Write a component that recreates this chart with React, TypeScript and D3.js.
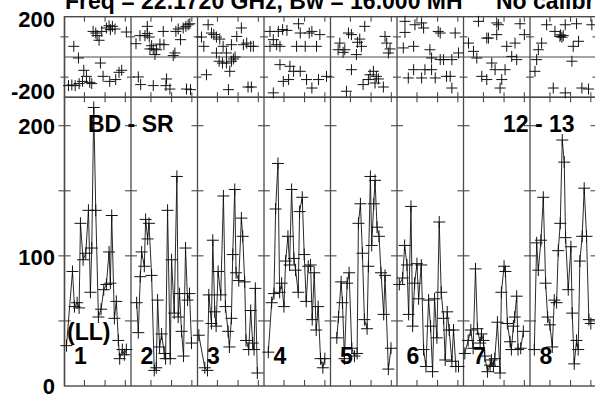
import React from "react";
import * as d3 from "d3";

// ---- data (t = fraction of each baseline time panel) ----
const PANEL_LABELS = ["1", "2", "3", "4", "5", "6", "7", "8"];
const TIME_TICKS = [0.3, 0.61, 0.915];
const AMP_TICKS = [50, 100, 150, 200];
const PHASE_TICKS = [-100, 100];
const AMP_AXIS_LABELS = ["200", "100", "0"];
const PHASE_AXIS_LABELS = ["200", "-200"];

const amp1 = [[.03,31],[.12,88],[.15,61],[.19,64],[.22,60],[.24,125],[.28,97],[.32,102],[.36,135],[.39,72],[.41,106],[.44,214],[.47,135],[.51,53],[.55,59],[.59,74],[.63,78],[.67,103],[.69,79],[.71,131],[.75,52],[.78,65],[.81,35],[.83,21],[.87,28],[.90,24],[.93,28]];
const amp2 = [[.085,64],[.11,41],[.14,84],[.16,103],[.20,92],[.22,128],[.25,113],[.27,125],[.31,85],[.35,12],[.38,14],[.40,66],[.43,30],[.46,40],[.50,25],[.52,21],[.55,135],[.59,21],[.61,97],[.65,56],[.69,161],[.71,53],[.73,71],[.76,42],[.79,23],[.82,106],[.85,66],[.88,71],[.91,33]];
const amp3 = [[.02,39],[.11,14],[.15,12],[.17,70],[.21,48],[.23,112],[.26,57],[.28,46],[.31,88],[.35,70],[.39,146],[.42,61],[.46,42],[.48,30],[.51,52],[.53,101],[.56,151],[.58,87],[.62,81],[.66,129],[.68,115],[.71,80],[.73,35],[.77,28],[.80,58],[.83,33],[.85,28],[.87,75],[.90,10]];
const amp4 = [[.065,26],[.115,64],[.15,71],[.175,136],[.21,171],[.235,72],[.265,79],[.30,61],[.325,96],[.36,115],[.385,93],[.415,151],[.45,98],[.475,89],[.515,72],[.535,134],[.575,145],[.605,101],[.635,65],[.665,92],[.70,93],[.725,51],[.755,87],[.785,43],[.815,61],[.85,21],[.885,14],[.915,21]];
const amp5 = [[.095,37],[.12,53],[.16,80],[.18,64],[.21,21],[.25,79],[.28,87],[.32,29],[.36,23],[.40,25],[.42,125],[.45,140],[.48,102],[.51,51],[.55,44],[.57,92],[.60,161],[.62,108],[.65,140],[.67,158],[.70,122],[.73,115],[.76,87],[.80,55],[.82,85],[.87,13],[.91,29]];
const amp6 = [[.035,78],[.085,83],[.115,108],[.15,93],[.175,55],[.21,138],[.235,46],[.265,79],[.30,94],[.325,67],[.365,93],[.40,28],[.435,15],[.475,66],[.505,46],[.535,11],[.565,67],[.60,37],[.635,126],[.665,72],[.70,52],[.725,20],[.755,57],[.785,43],[.825,19],[.85,43],[.885,15],[.925,15]];
const amp7 = [[.02,25],[.07,35],[.11,43],[.145,29],[.18,90],[.21,44],[.25,33],[.27,40],[.30,35],[.32,23],[.36,11],[.40,16],[.42,20],[.45,15],[.47,21],[.51,49],[.55,10],[.57,72],[.61,92],[.63,88],[.66,48],[.70,34],[.72,28],[.75,46],[.77,53],[.80,69],[.82,28],[.86,29],[.90,42]];
const amp8 = [[.065,28],[.10,110],[.125,89],[.165,112],[.20,145],[.235,79],[.265,53],[.30,47],[.335,30],[.365,66],[.40,64],[.425,104],[.455,125],[.485,189],[.515,172],[.535,114],[.575,74],[.615,107],[.635,56],[.665,17],[.70,35],[.725,28],[.75,96],[.785,115],[.815,152],[.85,115],[.885,51],[.915,48]];

const ph1 = [[.14,53],[.21,-5],[.43,127],[.47,119],[.49,106],[.52,83],[.56,127],[.63,144],[.67,155],[.69,136],[.72,152],[.76,139],[.93,124],[.06,-142],[.11,-139],[.16,-142],[.22,-132],[.27,-121],[.29,-66],[.33,-96],[.38,-126],[.41,-132],[.54,-30],[.58,-96],[.68,-121],[.77,-112],[.82,-76],[.86,-66]];
const ph2 = [[.075,66],[.135,106],[.21,106],[.245,116],[.245,152],[.275,99],[.335,40],[.36,12],[.385,36],[.435,64],[.485,127],[.495,61],[.66,20],[.675,127],[.71,139],[.745,86],[.785,144],[.825,152],[.86,160],[.885,165],[.11,-99],[.145,-137],[.335,-142],[.535,-109],[.585,-159],[.525,-142],[.835,-159],[.895,-162],[.635,7],[.285,40],[.31,56]];
const ph3 = [[.06,99],[.095,53],[.16,160],[.21,119],[.245,111],[.285,99],[.335,89],[.385,53],[.285,20],[.435,20],[.51,61],[.59,102],[.66,144],[.69,61],[.74,69],[.80,53],[.84,53],[.325,-21],[.375,-30],[.435,-30],[.51,-21],[.54,-10],[.565,0],[.485,-71],[.135,-88],[.465,-162],[.81,-149],[.76,-149]];
const ph4 = [[.09,127],[.14,86],[.215,127],[.28,136],[.345,132],[.52,165],[.545,119],[.68,119],[.72,127],[.19,61],[.24,53],[.09,53],[.49,53],[.62,53],[.79,53],[.84,111],[.24,-38],[.39,-46],[.445,-71],[.37,-112],[.29,-121],[.545,-71],[.64,-112],[.72,-154],[.82,-112],[.94,-96],[.14,-178]];
const ph5 = [[.14,69],[.115,36],[.19,23],[.27,119],[.315,111],[.405,73],[.44,89],[.515,152],[.465,53],[.82,102],[.845,69],[.87,20],[.895,40],[.215,36],[.39,12],[.315,-63],[.595,-88],[.645,-71],[.69,-96],[.72,-109],[.57,-112],[.795,-149],[.24,-170],[.49,-137],[.67,-129]];
const ph6 = [[.12,177],[.27,160],[.37,169],[.12,122],[.40,144],[.65,119],[.62,127],[.875,119],[.095,45],[.25,53],[.495,36],[.52,-5],[.65,-13],[.70,-13],[.825,-13],[.925,20],[.25,-63],[.42,-63],[.52,-63],[.17,-104],[.37,-104],[.575,-104],[.745,-96],[.80,-96],[.825,-154]];
const ph7 = [[.225,177],[.50,169],[.85,165],[.525,160],[.915,111],[.35,94],[.375,94],[.50,111],[.075,69],[.15,28],[.20,-5],[.65,53],[.775,69],[.725,3],[.80,-13],[.425,-30],[.475,-63],[.625,-63],[.275,-96],[.35,-112],[.575,-112],[.55,-154]];
const ph8 = [[.25,160],[.53,160],[.70,165],[.93,160],[.375,127],[.45,102],[.50,106],[.46,110],[.48,98],[.73,78],[.175,69],[.125,36],[.65,53],[.10,-13],[.075,-71],[.63,-21],[.35,-154],[.53,-178],[.78,-154],[.88,-159]];

const AMP = [amp1, amp2, amp3, amp4, amp5, amp6, amp7, amp8];
const PHASE = [ph1, ph2, ph3, ph4, ph5, ph6, ph7, ph8];

const TITLE = "Freq = 22.1720 GHz, Bw = 16.000 MH";
const TITLE2 = "No calibration";
const BASELINE_LEFT = "BD - SR";
const BASELINE_RIGHT = "12 - 13";
const POL = "(LL)";

const W = 595, H = 394;
const FONT = "'Liberation Sans', Arial, Helvetica, sans-serif";

export default function App() {
  const xAll = d3.scaleLinear().domain([0, 8]).range([64.5, 596.5]);
  const yPh = d3.scaleLinear().domain([-200, 200]).range([97.3, 16.7]);
  const yAmp = d3.scaleLinear().domain([0, 200]).range([386, 125.7]);
  const x0 = xAll(0), x8 = xAll(8);
  const frameCol = "#4a4a4a";
  const dataCol = "#111";

  const plus = (x: number, y: number, s: number) =>
    `M${x - s},${y}h${2 * s}M${x},${y - s}v${2 * s}`;

  const boundaries = d3.range(0, 9);

  return (
    <svg width={W} height={H} style={{ position: "absolute", left: 0, top: 0, background: "#fff" }}
      fontFamily={FONT} fontWeight="bold">
      <rect x={0} y={0} width={W} height={H} fill="#fff" />
      {/* frames */}
      <rect x={x0} y={yPh(200)} width={x8 - x0} height={yPh(-200) - yPh(200)} fill="none" stroke={frameCol} strokeWidth={1.4} />
      <rect x={x0} y={yPh(-200)} width={x8 - x0} height={yAmp(0) - yPh(-200)} fill="none" stroke={frameCol} strokeWidth={1.4} />
      <line x1={x0} x2={x8} y1={yPh(0)} y2={yPh(0)} stroke={frameCol} strokeWidth={1.2} />
      {boundaries.map((b) => (
        <line key={"vb" + b} x1={xAll(b)} x2={xAll(b)} y1={yPh(200)} y2={yAmp(0)} stroke={frameCol} strokeWidth={1.3} />
      ))}
      {/* value ticks at panel boundaries */}
      {boundaries.map((b) => (
        <g key={"bt" + b} stroke={frameCol} strokeWidth={1.1}>
          {AMP_TICKS.map((v) => (
            <line key={v} x1={xAll(b) - 6} x2={xAll(b) + 6} y1={yAmp(v)} y2={yAmp(v)} />
          ))}
          {PHASE_TICKS.map((v) => (
            <line key={v} x1={xAll(b) - 4} x2={xAll(b) + 4} y1={yPh(v)} y2={yPh(v)} />
          ))}
        </g>
      ))}
      {/* time ticks */}
      {d3.range(0, 8).map((p) => (
        <g key={"tt" + p} stroke={frameCol} strokeWidth={1.1}>
          {TIME_TICKS.map((t) => {
            const x = xAll(p + t);
            return (
              <g key={t}>
                <line x1={x} x2={x} y1={yPh(200)} y2={yPh(200) + 5} />
                <line x1={x} x2={x} y1={yPh(-200) - 5} y2={yPh(-200) + 5} />
                <line x1={x} x2={x} y1={yAmp(0) - 6} y2={yAmp(0)} />
              </g>
            );
          })}
        </g>
      ))}
      {/* amplitude data */}
      {AMP.map((series, p) => {
        const line = d3.line<number[]>().x((d) => xAll(p + d[0])).y((d) => yAmp(d[1]));
        return (
          <g key={"a" + p}>
            <path d={line(series) || ""} fill="none" stroke={dataCol} strokeWidth={0.9} />
            <path d={series.map((d) => plus(xAll(p + d[0]), yAmp(d[1]), 6)).join("")} stroke={dataCol} strokeWidth={1} fill="none" />
          </g>
        );
      })}
      {/* phase data */}
      {PHASE.map((series, p) => (
        <path key={"p" + p} d={series.map((d) => plus(xAll(p + d[0]), yPh(d[1]), 5.5)).join("")} stroke={dataCol} strokeWidth={1} fill="none" />
      ))}
      {/* axis labels */}
      <g fontSize={22} textAnchor="end" fill="#000">
        <text x={55} y={26.7}>{PHASE_AXIS_LABELS[0]}</text>
        <text x={55} y={99}>{PHASE_AXIS_LABELS[1]}</text>
        <text x={55} y={134.3}>{AMP_AXIS_LABELS[0]}</text>
        <text x={55} y={265}>{AMP_AXIS_LABELS[1]}</text>
        <text x={55} y={394}>{AMP_AXIS_LABELS[2]}</text>
      </g>
      {/* title */}
      <text x={65} y={9} fontSize={23}>{TITLE}</text>
      <text x={496} y={9} fontSize={23}>{TITLE2}</text>
      {/* labels */}
      <g fontSize={23} fill="#000">
        <text x={88} y={132}>{BASELINE_LEFT}</text>
        <text x={503} y={132}>{BASELINE_RIGHT}</text>
        <text x={67} y={340}>{POL}</text>
        {PANEL_LABELS.map((l, i) => (
          <text key={l} x={xAll(i) + 9.5} y={364}>{l}</text>
        ))}
      </g>
    </svg>
  );
}
